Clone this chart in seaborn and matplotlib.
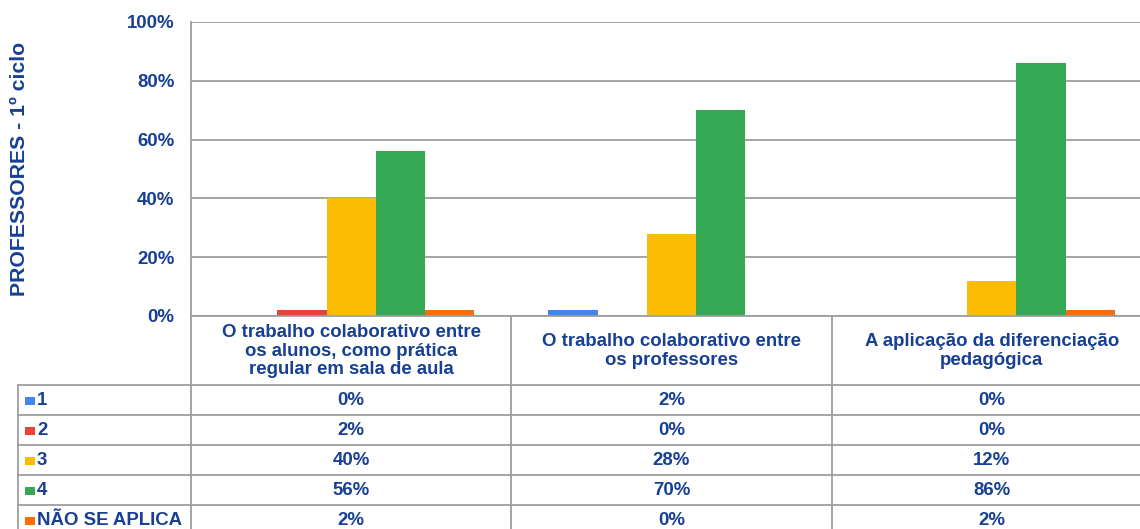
import matplotlib
matplotlib.use("Agg")
import matplotlib.pyplot as plt
import matplotlib.transforms as mtransforms
from matplotlib.lines import Line2D
from matplotlib.patches import Rectangle
from matplotlib.ticker import FuncFormatter
import pandas as pd
import seaborn as sns

# dados
categorias = [
    "O trabalho colaborativo entre\nos alunos, como prática\nregular em sala de aula",
    "O trabalho colaborativo entre\nos professores",
    "A aplicação da diferenciação\npedagógica",
]
series = ["1", "2", "3", "4", "NÃO SE APLICA"]
v_1 = [0, 2, 0]
v_2 = [2, 0, 0]
v_3 = [40, 28, 12]
v_4 = [56, 70, 86]
v_na = [2, 0, 2]
cores = ["#4285F4", "#EA4335", "#FBBC04", "#34A853", "#FF6D01"]

AZUL = "#173f93"
CINZA = "#9e9e9e"
FS = 13.4

sns.set_style("white")
plt.rcParams["font.family"] = ["Liberation Sans", "DejaVu Sans"]
plt.rcParams["font.weight"] = "bold"

valores = [v_1, v_2, v_3, v_4, v_na]
df = pd.DataFrame(
    [(categorias[i], s, vals[i]) for s, vals in zip(series, valores) for i in range(len(categorias))],
    columns=["categoria", "serie", "valor"],
)

W, H = 1140, 529
fig = plt.figure(figsize=(W / 100, H / 100), dpi=100)
ax_left, ax_right, ax_top, ax_bottom = 191, 1152, 22, 316
ax = fig.add_axes([ax_left / W, 1 - ax_bottom / H, (ax_right - ax_left) / W, (ax_bottom - ax_top) / H])

sns.barplot(
    data=df, x="categoria", y="valor", hue="serie",
    order=categorias, hue_order=series, palette=cores, saturation=1,
    width=0.77, gap=0, linewidth=0, legend=False, ax=ax,
)

ax.set_xlim(-0.5, len(categorias) - 0.5)
ax.set_ylim(0, 100)
ax.set_yticks(range(0, 101, 20))
ax.yaxis.set_major_formatter(FuncFormatter(lambda v, _: f"{v:.0f}%"))
ax.tick_params(axis="y", length=0, pad=12, labelsize=FS, labelcolor=AZUL)
ax.set_xticks([])
ax.set_xlabel("")
ax.set_ylabel("")
ax.yaxis.grid(True, color=CINZA, linewidth=1.3)
ax.set_axisbelow(True)
for side in ["top", "right", "bottom"]:
    ax.spines[side].set_visible(False)
ax.spines["left"].set_color(CINZA)
ax.spines["left"].set_linewidth(1.3)
for t in ax.get_yticklabels():
    t.set_fontweight("bold")

fig.text(20 / W, 1 - 169 / H, "PROFESSORES - 1º ciclo", rotation=90, ha="center", va="center",
         fontsize=15.3, fontweight="bold", color=AZUL)

# tabela de dados
def fy(py):
    return 1 - py / H

linhas_y = [385, 415, 445, 475, 505]
tab_left = 18
mix = mtransforms.blended_transform_factory(ax.transData, fig.transFigure)

fig.add_artist(Line2D([ax_left / W, 1], [fy(316), fy(316)], color=CINZA, lw=1.3))
for y in linhas_y:
    fig.add_artist(Line2D([tab_left / W, 1], [fy(y), fy(y)], color=CINZA, lw=1.3))
fig.add_artist(Line2D([tab_left / W, tab_left / W], [fy(385), 0], color=CINZA, lw=1.3))
for b in [-0.5, 0.5, 1.5]:
    fig.add_artist(Line2D([b, b], [fy(316), 0], color=CINZA, lw=1.3, transform=mix))

for i, cat in enumerate(categorias):
    fig.text(i, fy(351), cat, transform=mix, ha="center", va="center",
             fontsize=FS, fontweight="bold", color=AZUL, linespacing=1.15)

for r, (s, vals, c) in enumerate(zip(series, valores, cores)):
    yc = linhas_y[r] + 15.5
    fig.add_artist(Rectangle((25 / W, fy(yc + 4)), 10 / W, 8 / H, transform=fig.transFigure,
                             facecolor=c, edgecolor="none"))
    fig.text(37 / W, fy(yc), s, ha="left", va="center", fontsize=FS, fontweight="bold", color=AZUL)
    for i, v in enumerate(vals):
        fig.text(i, fy(yc), f"{v}%", transform=mix, ha="center", va="center",
                 fontsize=FS, fontweight="bold", color=AZUL)

fig.savefig("out.png", dpi=100)
